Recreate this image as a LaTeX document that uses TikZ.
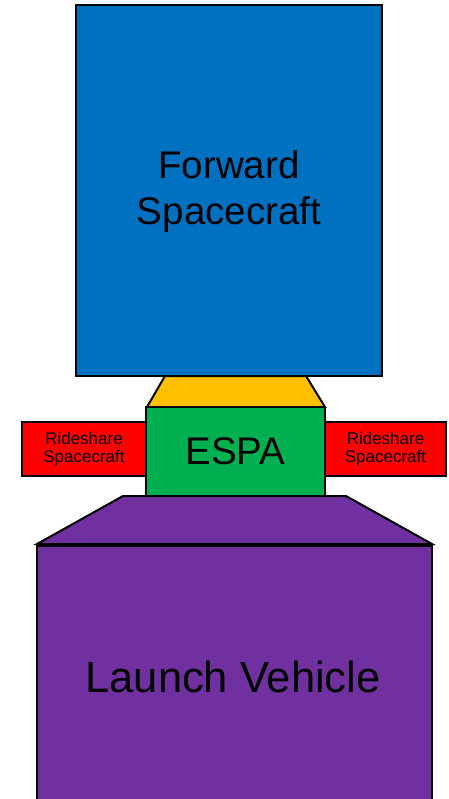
\documentclass[tikz,border=0pt]{standalone}
\usepackage{fontspec}
\setmainfont{Liberation Sans}
\definecolor{fwdblue}{HTML}{0070C0}
\definecolor{adyellow}{HTML}{FFC000}
\definecolor{espagreen}{HTML}{00B050}
\definecolor{riderred}{HTML}{FF0000}
\definecolor{lvpurple}{HTML}{7030A0}
\begin{document}
\begin{tikzpicture}[x=1pt,y=-1pt,
  part/.style={draw=black, line width=2pt, inner sep=0pt, outer sep=0pt, line join=miter},
  bigtext/.style={font=\fontsize{38.5}{46}\selectfont, align=center, text=black},
  smalltext/.style={font=\fontsize{17}{18.5}\selectfont, align=center, text=black}]
\useasboundingbox (0,0) rectangle (448,799);
\clip (0,0) rectangle (448,799);
% adapter (yellow)
\draw[part, fill=adyellow] (165,376) -- (306,376) -- (325,407) -- (147,407) -- cycle;
% forward spacecraft
\node[part, fill=fwdblue, minimum width=306pt, minimum height=371pt] (fwd) at (229,190.5) {};
\node[bigtext] (fwdtext) at (229,192) {Forward\\Spacecraft};
% rideshare
\node[part, fill=riderred, minimum width=124pt, minimum height=54pt, smalltext] (rsl) at (84,449) {Rideshare\\Spacecraft};
\node[part, fill=riderred, minimum width=121pt, minimum height=54pt, smalltext] (rsr) at (385.5,449) {Rideshare\\Spacecraft};
% ESPA
\node[part, fill=espagreen, minimum width=179pt, minimum height=89pt, bigtext] (espa) at (235.5,451.5) {ESPA};
% launch vehicle
\draw[part, fill=lvpurple] (123,496) -- (346,496) -- (432,544) -- (37,544) -- cycle;
\node[part, fill=lvpurple, minimum width=395pt, minimum height=274pt] (lv) at (234.5,683) {};
\node[bigtext, font=\fontsize{43.5}{50}\selectfont] (lvtext) at (233,677) {Launch Vehicle};
\end{tikzpicture}
\end{document}
